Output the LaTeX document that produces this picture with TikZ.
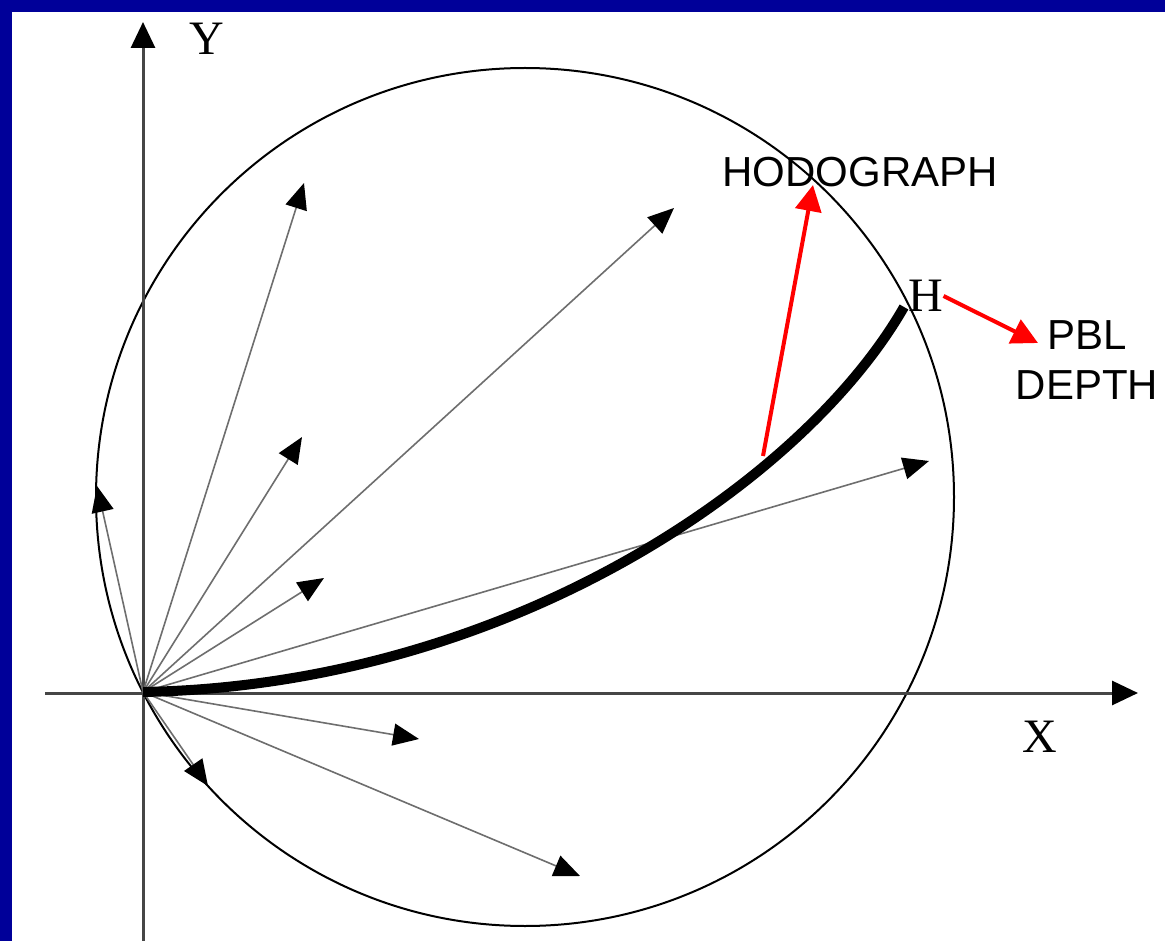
\documentclass[tikz,border=0pt]{standalone}
\usepackage{fontspec}
\setmainfont{Liberation Serif}
\newfontfamily\arialfont{Liberation Sans}
\usetikzlibrary{arrows.meta}
\definecolor{navyframe}{RGB}{0,0,153}
\definecolor{axisgray}{RGB}{70,70,70}
\definecolor{vecgray}{RGB}{110,110,110}
\tikzset{
  axisline/.style={draw=axisgray, line width=3pt, -{Triangle[length=26pt,width=24pt,color=black]}},
  vecline/.style={draw=vecgray, line width=1.6pt, -{Triangle[length=26pt,width=22pt,color=black]}},
  redline/.style={draw=red, line width=4pt, -{Triangle[length=26pt,width=26pt]}},
  axislabel/.style={inner sep=0pt, font=\fontsize{48}{52}\selectfont},
  sanslabel/.style={inner sep=0pt, font=\arialfont\fontsize{42}{50}\selectfont, align=center},
  hodo/.style={draw=black, line width=10pt}
}
\begin{document}
\begin{tikzpicture}[x=1pt,y=-1pt]
\useasboundingbox (0,0) rectangle (1165,941);
\fill[navyframe] (0,0) rectangle (1165,941);
\fill[white] (12,12) rectangle (1165,941);

% origin and axes ends
\coordinate (O) at (143,692);
\coordinate (ybot) at (143,941);
\coordinate (ytip) at (143,22);
\coordinate (xleft) at (45,693);
\coordinate (xtip) at (1138,693);

% circle
\coordinate (C) at (525,497);
\draw[black, line width=2pt] (C) circle[radius=429];

% axes
\draw[axisline] (ybot) -- (ytip);
\draw[axisline] (xleft) -- (xtip);
\node[axislabel] (Ylab) at (207,39) {Y};
\node[axislabel] (Xlab) at (1040,737) {X};

% wind vectors
\coordinate (v1) at (97,486);
\coordinate (v2) at (304,183);
\coordinate (v3) at (674,208);
\coordinate (v4) at (302,437);
\coordinate (v5) at (324,578);
\coordinate (v6) at (929,461);
\coordinate (v7) at (419,739);
\coordinate (v8) at (580,876);
\coordinate (v9) at (208,786);
\foreach \v in {v1,v2,v3,v4,v5,v6,v7,v8,v9}
  \draw[vecline] (O) -- (\v);

% hodograph curve
\coordinate (Hend) at (904,307);
\draw[hodo] (O) .. controls (510,685) and (805,480) .. (Hend);

% labels
\node[axislabel] (H) at (926,296) {H};
\node[sanslabel] (hodolab) at (860,172) {HODOGRAPH};
\node[sanslabel] (pbl) at (1087,360) {PBL\\DEPTH};

% red arrows
\coordinate (hstart) at (763,456);
\coordinate (htip) at (813,185);
\draw[redline] (hstart) -- (htip);
\coordinate (ptip) at (1038,343);
\draw[redline] (H.east) -- (ptip);
\end{tikzpicture}
\end{document}
